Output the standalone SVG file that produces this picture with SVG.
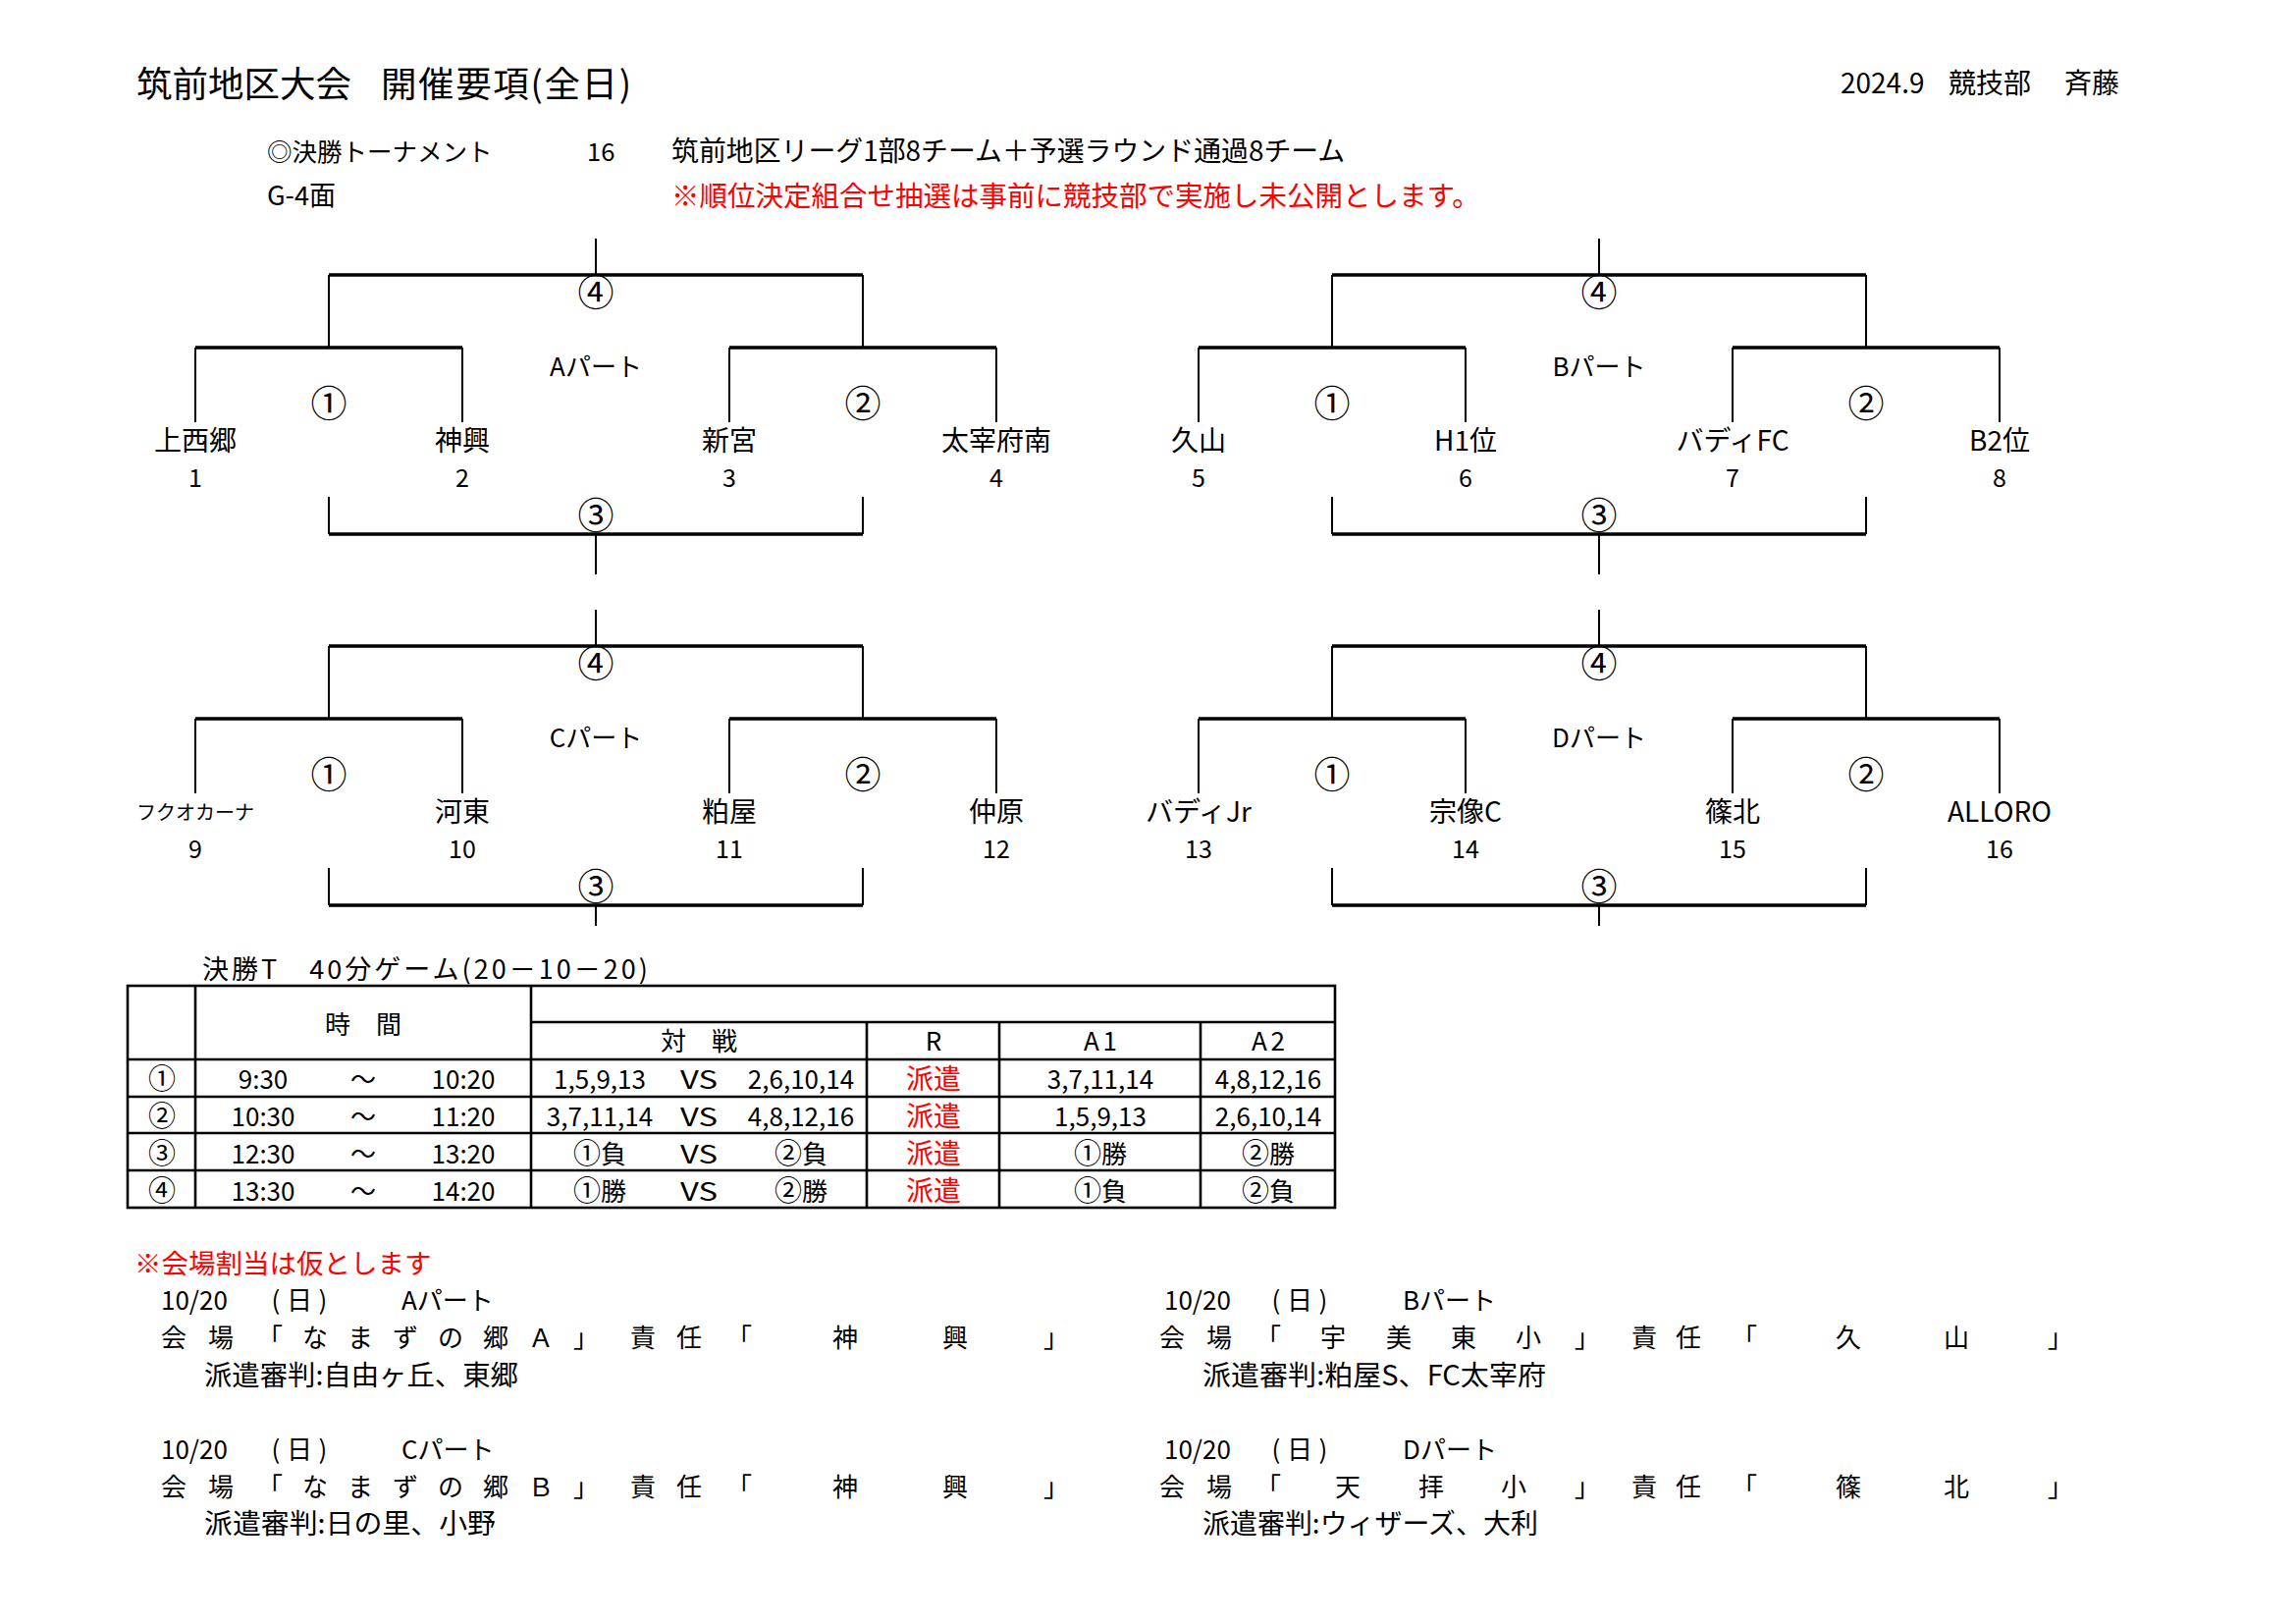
<svg xmlns="http://www.w3.org/2000/svg" width="2339" height="1653" viewBox="0 0 2339 1653">
<style>
text{font-family:"Noto Sans CJK JP","Noto Sans CJK SC",sans-serif;fill:#000;dominant-baseline:central}
.m{text-anchor:middle}
.red{fill:#ff0000}
.bar{stroke:#000;stroke-width:3.5;fill:none}
.ln{stroke:#000;stroke-width:2;fill:none}
.tb{stroke:#000;stroke-width:2.6;fill:none}
.nm{font-size:28px}
.no{font-size:25px}
.cn{font-size:37px}
.pl{font-size:26px}
.cell{font-size:26px}
.ci{font-size:28px}
.hd{font-size:26px}
.v{font-size:26px}
.rf{font-size:28px}
</style>
<defs>
<g id="bracketAB">
<path class="ln" d="M607 243V280M335 280V354M879 280V354M199 354V430M471 354V430M743 354V430M1015 354V430M335 506V544M879 506V544M607 544V585"/>
<path class="bar" d="M335 280H879M199 354H471M743 354H1015M335 544H879"/>
</g>
<g id="bracketCD">
<path class="ln" d="M607 243V280M335 280V354M879 280V354M199 354V430M471 354V430M743 354V430M1015 354V430M335 506V544M879 506V544M607 544V565"/>
<path class="bar" d="M335 280H879M199 354H471M743 354H1015M335 544H879"/>
</g>
</defs>

<g id="header">
<text x="139" y="83" font-size="36.5">筑前地区大会</text>
<text x="388" y="83" font-size="36.5" textLength="255" lengthAdjust="spacing">開催要項(全日)</text>
<text x="1875" y="83" font-size="28">2024.9<tspan x="1985">競技部</tspan><tspan x="2103">斉藤</tspan></text>
<text x="272" y="152" font-size="25.5">◎決勝トーナメント</text>
<text x="598" y="152" font-size="25.5">16</text>
<text x="684" y="152" font-size="27.9">筑前地区リーグ1部8チーム＋予選ラウンド通過8チーム</text>
<text x="272" y="197" font-size="27">G-4面</text>
<text x="684" y="197" font-size="28.5" class="red">※順位決定組合せ抽選は事前に競技部で実施し未公開とします。</text>
</g>

<g id="connectors">
<use href="#bracketAB"/>
<use href="#bracketAB" transform="translate(1022,0)"/>
<use href="#bracketCD" transform="translate(0,378)"/>
<use href="#bracketCD" transform="translate(1022,378)"/>
</g>

<g id="part-A">
<text class="m cn" x="607" y="296">④</text>
<text class="m pl" x="607" y="371">Aパート</text>
<text class="m cn" x="335" y="409">①</text>
<text class="m cn" x="879" y="409">②</text>
<text class="m cn" x="607" y="523">③</text>
</g>
<g id="part-B">
<text class="m cn" x="1629" y="296">④</text>
<text class="m pl" x="1629" y="371">Bパート</text>
<text class="m cn" x="1357" y="409">①</text>
<text class="m cn" x="1901" y="409">②</text>
<text class="m cn" x="1629" y="523">③</text>
</g>
<g id="part-C">
<text class="m cn" x="607" y="674">④</text>
<text class="m pl" x="607" y="749">Cパート</text>
<text class="m cn" x="335" y="787">①</text>
<text class="m cn" x="879" y="787">②</text>
<text class="m cn" x="607" y="901">③</text>
</g>
<g id="part-D">
<text class="m cn" x="1629" y="674">④</text>
<text class="m pl" x="1629" y="749">Dパート</text>
<text class="m cn" x="1357" y="787">①</text>
<text class="m cn" x="1901" y="787">②</text>
<text class="m cn" x="1629" y="901">③</text>
</g>

<g id="team-1"><text class="m nm" x="199" y="447">上西郷</text><text class="m no" x="199" y="485">1</text></g>
<g id="team-2"><text class="m nm" x="471" y="447">神興</text><text class="m no" x="471" y="485">2</text></g>
<g id="team-3"><text class="m nm" x="743" y="447">新宮</text><text class="m no" x="743" y="485">3</text></g>
<g id="team-4"><text class="m nm" x="1015" y="447">太宰府南</text><text class="m no" x="1015" y="485">4</text></g>
<g id="team-5"><text class="m nm" x="1221" y="447">久山</text><text class="m no" x="1221" y="485">5</text></g>
<g id="team-6"><text class="m nm" x="1493" y="447">H1位</text><text class="m no" x="1493" y="485">6</text></g>
<g id="team-7"><text class="m nm" x="1765" y="447">バディFC</text><text class="m no" x="1765" y="485">7</text></g>
<g id="team-8"><text class="m nm" x="2037" y="447">B2位</text><text class="m no" x="2037" y="485">8</text></g>
<g id="team-9"><text class="m" font-size="20" x="199" y="826">フクオカーナ</text><text class="m no" x="199" y="863">9</text></g>
<g id="team-10"><text class="m nm" x="471" y="825">河東</text><text class="m no" x="471" y="863">10</text></g>
<g id="team-11"><text class="m nm" x="743" y="825">粕屋</text><text class="m no" x="743" y="863">11</text></g>
<g id="team-12"><text class="m nm" x="1015" y="825">仲原</text><text class="m no" x="1015" y="863">12</text></g>
<g id="team-13"><text class="m nm" x="1221" y="825">バディJr</text><text class="m no" x="1221" y="863">13</text></g>
<g id="team-14"><text class="m nm" x="1493" y="825">宗像C</text><text class="m no" x="1493" y="863">14</text></g>
<g id="team-15"><text class="m nm" x="1765" y="825">篠北</text><text class="m no" x="1765" y="863">15</text></g>
<g id="team-16"><text class="m nm" x="2037" y="825">ALLORO</text><text class="m no" x="2037" y="863">16</text></g>

<g id="schedule-table">
<text x="206" y="985" font-size="27" textLength="454" lengthAdjust="spacing">決勝T　40分ゲーム(20－10－20)</text>
<rect class="tb" x="130" y="1004" width="1230" height="226" stroke-width="3"/>
<path class="tb" d="M199 1004V1230M541 1004V1230M883 1041V1230M1018 1041V1230M1223 1041V1230M541 1041H1360M130 1079H1360M130 1117H1360M130 1154H1360M130 1192H1360"/>
<text class="m hd" x="370" y="1041">時　間</text>
<text class="m hd" x="712" y="1058">対　戦</text>
<text class="m hd" x="951" y="1058">R</text>
<text class="m hd" x="1121" y="1058" textLength="34" lengthAdjust="spacing">A1</text>
<text class="m hd" x="1292" y="1058" textLength="34" lengthAdjust="spacing">A2</text>

<g id="row-1">
<text class="m ci" x="165" y="1097">①</text>
<text class="m cell" x="268" y="1097">9:30</text>
<text class="m cell" x="370" y="1097">～</text>
<text class="m cell" x="472" y="1097">10:20</text>
<text class="m cell" x="611" y="1097">1,5,9,13</text>
<text class="m cell" x="712" y="1097" textLength="38" lengthAdjust="spacingAndGlyphs">VS</text>
<text class="m cell" x="816" y="1097">2,6,10,14</text>
<text class="m rf red" x="951" y="1097">派遣</text>
<text class="m cell" x="1121" y="1097">3,7,11,14</text>
<text class="m cell" x="1292" y="1097">4,8,12,16</text>
</g>
<g id="row-2">
<text class="m ci" x="165" y="1135">②</text>
<text class="m cell" x="268" y="1135">10:30</text>
<text class="m cell" x="370" y="1135">～</text>
<text class="m cell" x="472" y="1135">11:20</text>
<text class="m cell" x="611" y="1135">3,7,11,14</text>
<text class="m cell" x="712" y="1135" textLength="38" lengthAdjust="spacingAndGlyphs">VS</text>
<text class="m cell" x="816" y="1135">4,8,12,16</text>
<text class="m rf red" x="951" y="1135">派遣</text>
<text class="m cell" x="1121" y="1135">1,5,9,13</text>
<text class="m cell" x="1292" y="1135">2,6,10,14</text>
</g>
<g id="row-3">
<text class="m ci" x="165" y="1173">③</text>
<text class="m cell" x="268" y="1173">12:30</text>
<text class="m cell" x="370" y="1173">～</text>
<text class="m cell" x="472" y="1173">13:20</text>
<text class="m cell" x="611" y="1173"><tspan class="ci">①</tspan>負</text>
<text class="m cell" x="712" y="1173" textLength="38" lengthAdjust="spacingAndGlyphs">VS</text>
<text class="m cell" x="816" y="1173"><tspan class="ci">②</tspan>負</text>
<text class="m rf red" x="951" y="1173">派遣</text>
<text class="m cell" x="1121" y="1173"><tspan class="ci">①</tspan>勝</text>
<text class="m cell" x="1292" y="1173"><tspan class="ci">②</tspan>勝</text>
</g>
<g id="row-4">
<text class="m ci" x="165" y="1211">④</text>
<text class="m cell" x="268" y="1211">13:30</text>
<text class="m cell" x="370" y="1211">～</text>
<text class="m cell" x="472" y="1211">14:20</text>
<text class="m cell" x="611" y="1211"><tspan class="ci">①</tspan>勝</text>
<text class="m cell" x="712" y="1211" textLength="38" lengthAdjust="spacingAndGlyphs">VS</text>
<text class="m cell" x="816" y="1211"><tspan class="ci">②</tspan>勝</text>
<text class="m rf red" x="951" y="1211">派遣</text>
<text class="m cell" x="1121" y="1211"><tspan class="ci">①</tspan>負</text>
<text class="m cell" x="1292" y="1211"><tspan class="ci">②</tspan>負</text>
</g>
</g>

<g id="venues">
<text x="137" y="1285" font-size="27.5" class="red">※会場割当は仮とします</text>

<g id="venue-A">
<text class="v" x="164" y="1322">10/20</text>
<text class="v m" x="281 305 329" y="1322">(日)</text>
<text class="v" x="409" y="1322">Aパート</text>
<text class="v m" x="177 225 275 321 367 413 459 505 551 597 655 702 753 861 973 1076" y="1360">会場「なまずの郷Ａ」責任「神興」</text>
<text x="208" y="1399" font-size="28" textLength="320" lengthAdjust="spacingAndGlyphs">派遣審判:自由ヶ丘、東郷</text>
</g>
<g id="venue-B">
<text class="v" x="1186" y="1322">10/20</text>
<text class="v m" x="1300 1324 1348" y="1322">(日)</text>
<text class="v" x="1429" y="1322">Bパート</text>
<text class="v m" x="1194 1242 1292 1358 1425 1491 1557 1617 1675 1720 1777 1883 1993 2099" y="1360">会場「宇美東小」責任「久山」</text>
<text x="1225" y="1399" font-size="28" textLength="350" lengthAdjust="spacingAndGlyphs">派遣審判:粕屋S、FC太宰府</text>
</g>
<g id="venue-C">
<text class="v" x="164" y="1474">10/20</text>
<text class="v m" x="281 305 329" y="1474">(日)</text>
<text class="v" x="409" y="1474">Cパート</text>
<text class="v m" x="177 225 275 321 367 413 459 505 551 597 655 702 753 861 973 1076" y="1512">会場「なまずの郷Ｂ」責任「神興」</text>
<text x="208" y="1550" font-size="28" textLength="297" lengthAdjust="spacingAndGlyphs">派遣審判:日の里、小野</text>
</g>
<g id="venue-D">
<text class="v" x="1186" y="1474">10/20</text>
<text class="v m" x="1300 1324 1348" y="1474">(日)</text>
<text class="v" x="1429" y="1474">Dパート</text>
<text class="v m" x="1194 1242 1292 1373 1458 1542 1617 1675 1720 1777 1883 1993 2099" y="1512">会場「天拝小」責任「篠北」</text>
<text x="1225" y="1550" font-size="28" textLength="342" lengthAdjust="spacingAndGlyphs">派遣審判:ウィザーズ、大利</text>
</g>
</g>
</svg>
